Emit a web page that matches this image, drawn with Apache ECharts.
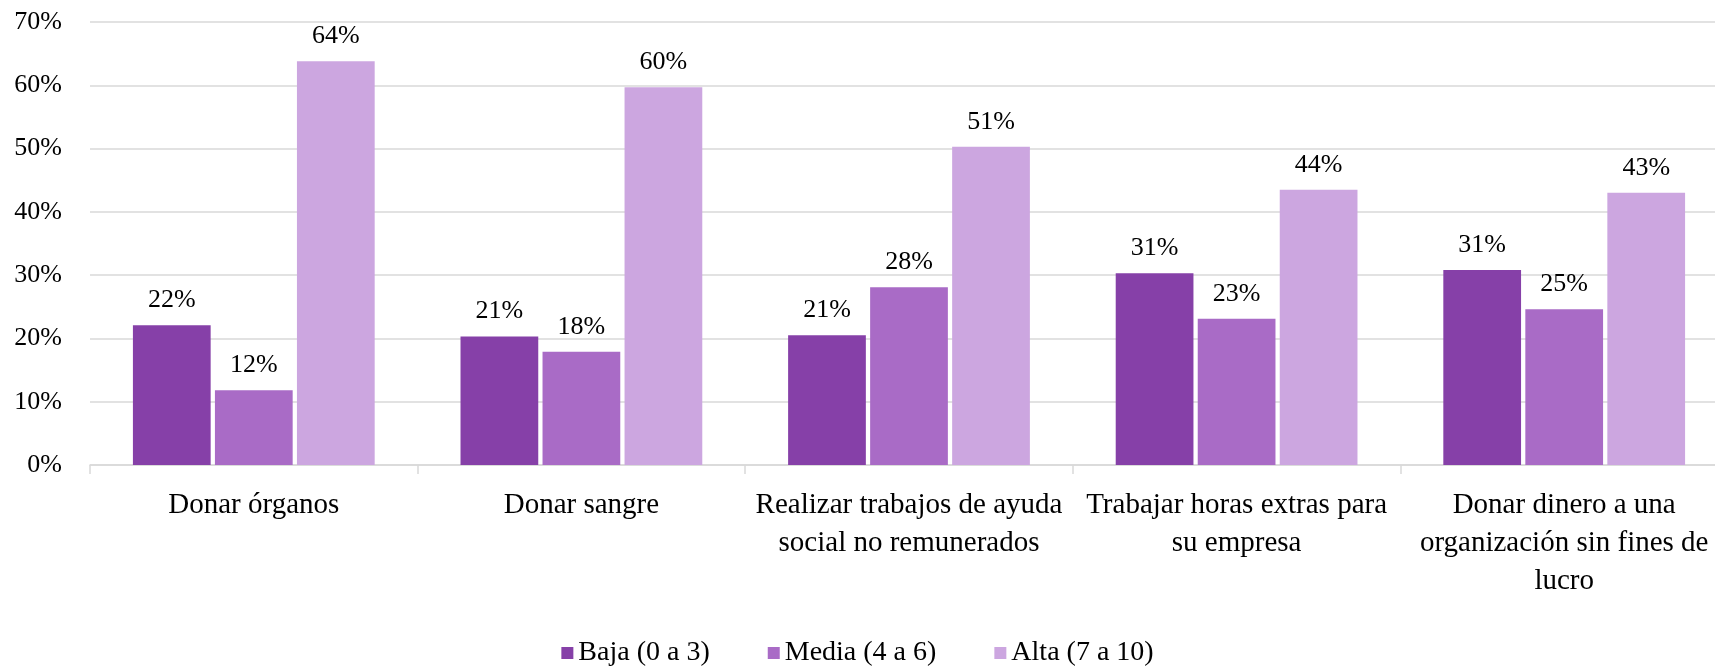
<!DOCTYPE html>
<html>
<head>
<meta charset="utf-8">
<script src="https://cdn.jsdelivr.net/npm/echarts@6/dist/echarts.min.js"></script>
<style>
  html, body { margin: 0; padding: 0; background: #fff; }
  #chart { width: 1715px; height: 666px; }
</style>
</head>
<body>
<div id="chart"></div>
<script>
var categories = [
    'Donar órganos',
    'Donar sangre',
    'Realizar trabajos de ayuda\nsocial no remunerados',
    'Trabajar horas extras para\nsu empresa',
    'Donar dinero a una\norganización sin fines de\nlucro'
];
var seriesNames = ['Baja (0 a 3)', 'Media (4 a 6)', 'Alta (7 a 10)'];
// alturas
var baja  = [22.1, 20.3, 20.5, 30.3, 30.8];
var media = [11.8, 17.9, 28.1, 23.1, 24.6];
var alta  = [63.8, 59.7, 50.3, 43.5, 43.0];
// etiquetas tal como aparecen
var bajaLbl  = [22, 21, 21, 31, 31];
var mediaLbl = [12, 18, 28, 23, 25];
var altaLbl  = [64, 60, 51, 44, 43];
var yTicks = [0, 10, 20, 30, 40, 50, 60, 70];

var colors = ['#8640a8', '#a96bc6', '#cca6e0'];
var FONT = '"Liberation Serif", serif';

function mkSeries(name, data, lbl, color) {
    return {
        name: name,
        type: 'bar',
        data: data,
        barGap: '5.5%',
        barCategoryGap: '26.2%',
        itemStyle: { color: color },
        label: {
            show: true,
            position: 'top',
            distance: 12,
            fontFamily: FONT,
            fontSize: 26,
            color: '#000',
            formatter: function (p) { return lbl[p.dataIndex] + '%'; }
        }
    };
}

var chart = echarts.init(document.getElementById('chart'));
chart.setOption({
    animation: false,
    color: colors,
    textStyle: { fontFamily: FONT },
    grid: { left: 90, width: 1638, top: 22, bottom: 201, containLabel: false, outerBoundsMode: 'none' },
    legend: {
        data: seriesNames,
        top: 634,
        icon: 'rect',
        itemWidth: 12,
        itemHeight: 12,
        itemGap: 58,
        textStyle: { fontFamily: FONT, fontSize: 28, color: '#000' }
    },
    xAxis: {
        type: 'category',
        data: categories,
        axisLine: { lineStyle: { color: '#d9d9d9', width: 1.5 } },
        axisTick: { show: true, length: 9, lineStyle: { color: '#d9d9d9', width: 1.5 } },
        axisLabel: {
            interval: 0,
            margin: 21,
            fontFamily: FONT,
            fontSize: 29,
            lineHeight: 38,
            color: '#000'
        }
    },
    yAxis: {
        type: 'value',
        min: yTicks[0],
        max: yTicks[yTicks.length - 1],
        interval: 10,
        axisLine: { show: false },
        axisTick: { show: false },
        splitLine: { lineStyle: { color: '#d9d9d9', width: 1.5 } },
        axisLabel: {
            margin: 28,
            fontFamily: FONT,
            fontSize: 26,
            color: '#000',
            formatter: '{value}%'
        }
    },
    series: [
        mkSeries(seriesNames[0], baja, bajaLbl, colors[0]),
        mkSeries(seriesNames[1], media, mediaLbl, colors[1]),
        mkSeries(seriesNames[2], alta, altaLbl, colors[2])
    ]
});
</script>
</body>
</html>
